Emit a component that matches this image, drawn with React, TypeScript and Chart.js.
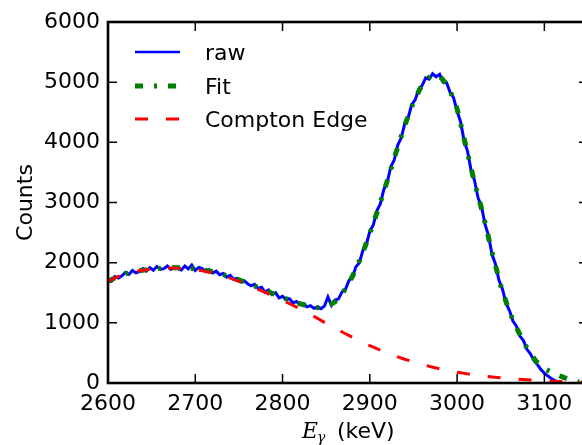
import React, { useEffect, useRef } from "react";
import { Chart, registerables } from "chart.js";

Chart.register(...registerables);

// ---- data ----
const RAW_START = 2600;
const RAW_STEP = 4;
const RAW_COUNTS = [
  1705, 1690, 1770, 1745, 1780, 1840, 1805, 1870, 1830, 1850,
  1900, 1860, 1915, 1875, 1935, 1890, 1900, 1945, 1890, 1930,
  1900, 1880, 1945, 1895, 1960, 1870, 1920, 1900, 1850, 1885,
  1830, 1860, 1800, 1820, 1760, 1790, 1725, 1740, 1680, 1700,
  1650, 1615, 1640, 1570, 1590, 1510, 1545, 1470, 1500, 1415,
  1440, 1385, 1400, 1330, 1355, 1300, 1320, 1265, 1285, 1240,
  1265, 1235, 1280, 1430, 1290, 1380, 1395, 1510, 1555, 1700,
  1755, 1930, 2000, 2200, 2300, 2520, 2625, 2860, 2975, 3215,
  3340, 3590, 3710, 3955, 4075, 4310, 4415, 4625, 4705, 4880,
  4945, 5070, 5050, 5140, 5090, 5130, 5000, 4990, 4830, 4740,
  4520, 4340, 4030, 3850, 3540, 3365, 3080, 2930, 2640, 2450,
  2140, 1975, 1705, 1560, 1330, 1205, 1030, 945, 780, 705,
  560, 485, 375, 305, 225, 165, 115, 75, 40, 10,
];

const CURVE_START = 2600;
const CURVE_STEP = 10;
const FIT_COUNTS = [
  1690, 1760, 1815, 1850, 1875, 1895, 1908, 1915, 1915, 1910,
  1898, 1878, 1848, 1810, 1765, 1715, 1660, 1600, 1540, 1480,
  1422, 1368, 1318, 1275, 1250, 1262, 1350, 1520, 1770, 2090,
  2480, 2910, 3360, 3830, 4280, 4670, 4960, 5110, 5100, 4930,
  4560, 3940, 3330, 2790, 2170, 1620, 1180, 860, 580, 370,
  240, 165, 105, 50, 15,
];
const COMPTON_COUNTS = [
  1690, 1760, 1815, 1850, 1875, 1893, 1905, 1910, 1908, 1900,
  1885, 1860, 1828, 1788, 1742, 1690, 1632, 1570, 1505, 1440,
  1375, 1305, 1232, 1155, 1075, 990, 910, 835, 760, 688,
  620, 558, 500, 445, 395, 350, 308, 270, 237, 207,
  180, 156, 135, 117, 101, 87, 74, 63, 53, 44,
  36, 29, 23, 18, 14, 11,
];

const SERIES_LABELS = ["raw", "Fit", "Compton Edge"];
const X_TICKS = [2600, 2700, 2800, 2900, 3000, 3100];
const Y_TICKS = [0, 1000, 2000, 3000, 4000, 5000, 6000];
const X_MIN = 2600;
const X_MAX = 3150;
const Y_MIN = 0;
const Y_MAX = 6000;

const FONT = "'DejaVu Sans', sans-serif";

const framePlugin = {
  id: "frameAndLegend",
  afterDatasetsDraw(chart: any) {
    const { ctx, chartArea: a, scales } = chart;
    ctx.save();
    ctx.setLineDash([]);
    ctx.strokeStyle = "#000";
    // inward ticks on all four sides
    ctx.lineWidth = 1.5;
    const TL = 9;
    ctx.beginPath();
    for (const v of X_TICKS) {
      const px = scales.x.getPixelForValue(v);
      ctx.moveTo(px, a.bottom);
      ctx.lineTo(px, a.bottom - TL);
      ctx.moveTo(px, a.top);
      ctx.lineTo(px, a.top + TL);
    }
    for (const v of Y_TICKS) {
      const py = scales.y.getPixelForValue(v);
      ctx.moveTo(a.left, py);
      ctx.lineTo(a.left + TL, py);
      ctx.moveTo(a.right, py);
      ctx.lineTo(a.right - TL, py);
    }
    ctx.stroke();
    // frame
    ctx.lineWidth = 2.6;
    ctx.strokeRect(a.left, a.top, a.right - a.left, a.bottom - a.top);

    // legend (no frame)
    const ds = chart.data.datasets;
    const rows = [52, 86, 119];
    ds.forEach((d: any, i: number) => {
      const y = rows[i];
      ctx.save();
      ctx.strokeStyle = d.borderColor;
      ctx.lineWidth = i === 0 ? 2.5 : d.borderWidth;
      ctx.setLineDash(d.borderDash || []);
      ctx.lineCap = "butt";
      ctx.beginPath();
      ctx.moveTo(135, y);
      ctx.lineTo(180, y);
      ctx.stroke();
      ctx.restore();
      ctx.fillStyle = "#000";
      ctx.font = `22px ${FONT}`;
      ctx.textAlign = "left";
      ctx.textBaseline = "alphabetic";
      ctx.fillText(d.label, 205, y + 8);
    });

    // y-axis title
    ctx.save();
    ctx.translate(32, (a.top + a.bottom) / 2);
    ctx.rotate(-Math.PI / 2);
    ctx.fillStyle = "#000";
    ctx.font = `22px ${FONT}`;
    ctx.textAlign = "center";
    ctx.textBaseline = "alphabetic";
    ctx.fillText("Counts", 0, 0);
    ctx.restore();

    // x-axis title: E_γ (keV)
    ctx.fillStyle = "#000";
    ctx.textAlign = "left";
    ctx.textBaseline = "alphabetic";
    ctx.font = `italic 22px 'DejaVu Serif', serif`;
    const baseY = 438;
    let x = 302;
    ctx.fillText("E", x, baseY);
    x += ctx.measureText("E").width - 1;
    ctx.font = `italic 14px 'DejaVu Serif', serif`;
    ctx.fillText("γ", x, baseY + 4);
    ctx.font = `22px ${FONT}`;
    ctx.fillText("(keV)", 337, baseY);
    ctx.restore();
  },
};

export default function App() {
  const ref = useRef<HTMLCanvasElement | null>(null);
  useEffect(() => {
    if (!ref.current) return;
    const rawData = RAW_COUNTS.map((c, i) => ({ x: RAW_START + i * RAW_STEP, y: c }));
    const fitData = FIT_COUNTS.map((c, i) => ({ x: CURVE_START + i * CURVE_STEP, y: c }));
    const ceData = COMPTON_COUNTS.map((c, i) => ({ x: CURVE_START + i * CURVE_STEP, y: c }));
    const chart = new Chart(ref.current, {
      type: "line",
      data: {
        datasets: [
          {
            label: SERIES_LABELS[0],
            data: rawData,
            borderColor: "#0000ff",
            borderWidth: 3,
            pointRadius: 0,
            tension: 0,
            order: 3,
          },
          {
            label: SERIES_LABELS[1],
            data: fitData,
            borderColor: "#008000",
            borderWidth: 5,
            borderDash: [8, 11, 3, 11],
            pointRadius: 0,
            tension: 0,
            order: 2,
          },
          {
            label: SERIES_LABELS[2],
            data: ceData,
            borderColor: "#ff0000",
            borderWidth: 3,
            borderDash: [13, 18],
            pointRadius: 0,
            tension: 0,
            order: 1,
          },
        ],
      },
      options: {
        responsive: false,
        maintainAspectRatio: false,
        animation: false,
        layout: { padding: { top: 22, right: 1, left: 0, bottom: 0 } },
        plugins: { legend: { display: false }, tooltip: { enabled: false } },
        scales: {
          x: {
            type: "linear",
            min: X_MIN,
            max: X_MAX,
            grid: { display: false, drawTicks: false },
            border: { display: false },
            ticks: {
              stepSize: 100,
              includeBounds: false,
              autoSkip: false,
              maxRotation: 0,
              padding: 8,
              color: "#000",
              font: { family: FONT, size: 22 },
              callback: (v: any) => String(v),
            },
            afterFit: (s: any) => {
              s.height = 62;
            },
          },
          y: {
            type: "linear",
            min: Y_MIN,
            max: Y_MAX,
            grid: { display: false, drawTicks: false },
            border: { display: false },
            ticks: {
              stepSize: 1000,
              autoSkip: false,
              padding: 8,
              color: "#000",
              font: { family: FONT, size: 22 },
              callback: (v: any) => String(v),
            },
            afterFit: (s: any) => {
              s.width = 108;
            },
          },
        },
      },
      plugins: [framePlugin],
    });
    return () => chart.destroy();
  }, []);
  return (
    <div
      style={{
        position: "absolute",
        left: 0,
        top: 0,
        width: 582,
        height: 445,
        overflow: "hidden",
        background: "#fff",
      }}
    >
      <canvas ref={ref} width={589} height={445} style={{ display: "block", width: 589, height: 445 }} />
    </div>
  );
}
